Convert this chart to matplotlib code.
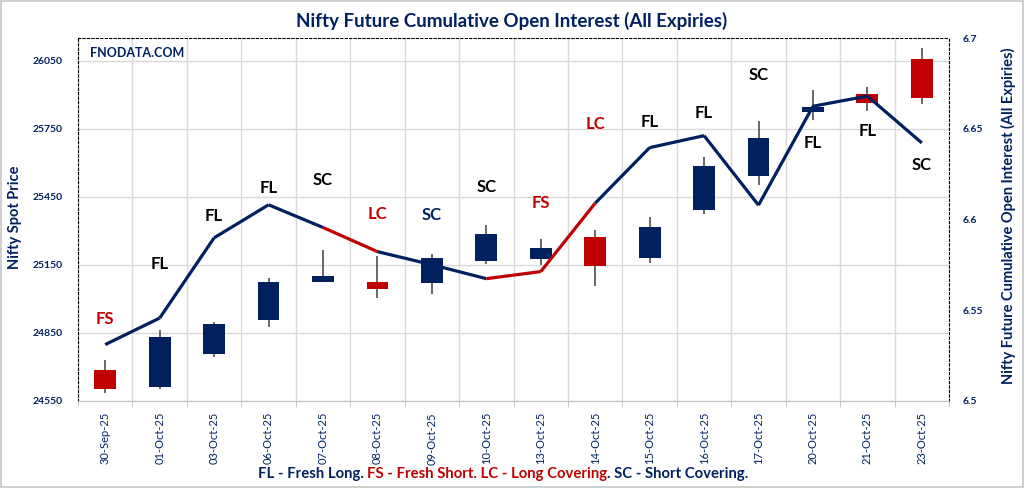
import matplotlib
matplotlib.use('Agg')
import matplotlib.pyplot as plt
import numpy as np

plt.rcParams['font.family'] = ['Lato', 'DejaVu Sans']

NAVY = '#002060'
RED = '#C00000'

dates = ['30-Sep-25', '01-Oct-25', '03-Oct-25', '06-Oct-25', '07-Oct-25', '08-Oct-25',
         '09-Oct-25', '10-Oct-25', '13-Oct-25', '14-Oct-25', '15-Oct-25', '16-Oct-25',
         '17-Oct-25', '20-Oct-25', '21-Oct-25', '23-Oct-25']
opens = [24687, 24613, 24755, 24909, 25076, 25076, 25068, 25166,
         25175, 25275, 25179, 25393, 25541, 25822, 25904, 26057]
highs = [24730, 24864, 24899, 25094, 25216, 25191, 25198, 25327,
         25265, 25304, 25360, 25625, 25784, 25923, 25932, 26104]
lows = [24584, 24602, 24743, 24876, 25073, 25004, 25022, 25154,
        25151, 25057, 25159, 25375, 25503, 25788, 25827, 25861]
closes = [24604, 24833, 24890, 25076, 25102, 25042, 25182, 25284,
          25226, 25144, 25319, 25584, 25709, 25846, 25864, 25886]
oi = [6.5311, 6.5457, 6.5899, 6.6081, 6.5956, 6.5823, 6.5751, 6.5674,
      6.5713, 6.6090, 6.6396, 6.6462, 6.6079, 6.6624, 6.6680, 6.6422]
signals = ['FS', 'FL', 'FL', 'FL', 'SC', 'LC', 'SC', 'SC',
           'FS', 'LC', 'FL', 'FL', 'SC', 'FL', 'FL', 'SC']

# layout / style for the signal labels
label_colors = ['r', 'k', 'k', 'k', 'k', 'r', 'n', 'k', 'r', 'r', 'k', 'k', 'k', 'k', 'k', 'k']
label_dy = [26, 54, 22, 17, 47, 38, 50, 92, 69, 79, 26, 23, 130, -37, -35, -22]
cmap = {'r': RED, 'k': 'black', 'n': NAVY}

fig = plt.figure(figsize=(10.24, 4.88), dpi=100)
fig.patch.set_edgecolor('#d0d0d0')
fig.patch.set_linewidth(1.5)
ax = fig.add_axes([0.0762, 0.1783, 0.8506, 0.7438])
ax2 = ax.twinx()

x = np.arange(len(dates))

# candles
for i in x:
    up = closes[i] >= opens[i]
    col = NAVY if up else RED
    ax.vlines(i, lows[i], highs[i], color='#404040', lw=1.1, zorder=2)
    lo = min(opens[i], closes[i])
    ax.bar(i, abs(closes[i] - opens[i]), bottom=lo, width=0.4, color=col, zorder=3)

ax.set_xlim(-0.5, len(dates) - 0.5)
ax.set_ylim(24550, 26150)
ax.set_yticks(np.arange(24550, 26051, 300))
ax.set_xticks(x)
ax.set_xticklabels(dates, rotation=90, fontsize=8, color=NAVY)
ax.set_xticks(np.arange(-0.5, len(dates), 1), minor=True)
ax.tick_params(axis='x', which='major', length=0, pad=8)
ax.tick_params(axis='x', which='minor', length=4, color='#bfbfbf')
ax.tick_params(axis='y', length=0, labelsize=7.5, labelcolor=NAVY, pad=11)
for lab in ax.get_yticklabels():
    lab.set_fontweight('bold')
ax.grid(axis='y', color='#d9d9d9', lw=1)
ax.grid(axis='x', which='minor', color='#d9d9d9', lw=1)
ax.set_axisbelow(True)
ax.set_ylabel('Nifty Spot Price', color=NAVY, fontsize=10.5, fontweight='bold')
ax.yaxis.set_label_coords(-0.064, 0.507)

for side in ['left', 'top', 'right']:
    ax.spines[side].set_linestyle((0, (2, 2)))
    ax.spines[side].set_linewidth(0.8)
    ax2.spines[side].set_visible(False)
ax.spines['bottom'].set_color('#bfbfbf')
ax2.spines['bottom'].set_visible(False)

# open interest line, segment colour follows the signal of the day it ends on
for i in range(1, len(x)):
    col = RED if signals[i] in ('FS', 'LC') else NAVY
    ax2.plot([x[i - 1], x[i]], [oi[i - 1], oi[i]], color=col, lw=2.3,
             solid_capstyle='butt', solid_joinstyle='round', zorder=4)

ax2.set_ylim(6.5, 6.7)
ax2.set_yticks([6.5, 6.55, 6.6, 6.65, 6.7])
ax2.set_yticklabels(['6.5', '6.55', '6.6', '6.65', '6.7'])
ax2.tick_params(axis='y', length=0, labelsize=7.5, labelcolor=NAVY, pad=10)
for lab in ax2.get_yticklabels():
    lab.set_fontweight('bold')
ax2.set_ylabel('Nifty Future Cumulative Open Interest (All Expiries)', color=NAVY,
               fontsize=10.5, fontweight='bold')
ax2.yaxis.set_label_coords(1.06, 0.51)

for i in x:
    ax2.annotate(signals[i], xy=(x[i], oi[i]), xytext=(0, label_dy[i]),
                 textcoords='offset pixels', ha='center', va='center',
                 fontsize=12, fontweight='bold', color=cmap[label_colors[i]], zorder=5)

ax.text(0.014, 0.96, 'FNODATA.COM', transform=ax.transAxes, fontsize=9,
        fontweight='bold', color=NAVY, va='center', ha='left')

fig.text(0.5, 0.958, 'Nifty Future Cumulative Open Interest (All Expiries)',
         ha='center', va='center', fontsize=13.5, fontweight='bold', color=NAVY)

# footer legend in mixed colours
parts = [('FL - Fresh Long. ', NAVY), ('FS - Fresh Short. LC - Long Covering', RED),
         ('. SC - Short Covering.', NAVY)]
fig.canvas.draw()
r = fig.canvas.get_renderer()
texts = []
for s, c in parts:
    texts.append(fig.text(0, 0.028, s, fontsize=10.7, fontweight='bold', color=c,
                          va='center', ha='left'))
widths = [t.get_window_extent(r).width for t in texts]
total = sum(widths)
xpos = 503 - total / 2
for t, w in zip(texts, widths):
    t.set_x(xpos / 1024)
    xpos += w

fig.savefig('out.png', dpi=100)
